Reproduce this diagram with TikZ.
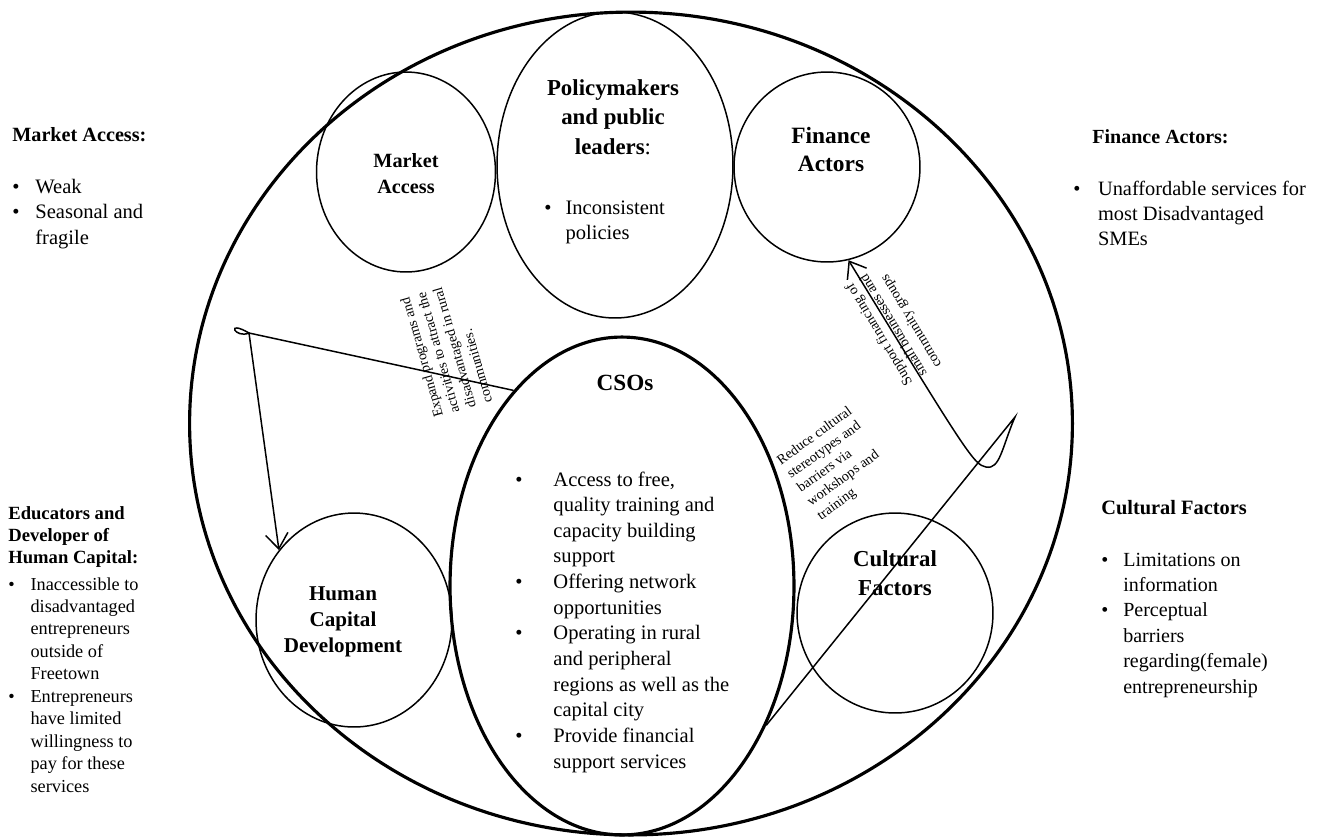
\documentclass[tikz,border=0pt]{standalone}
\usepackage{fontspec}
\setmainfont{Liberation Serif}
\usetikzlibrary{shapes.geometric, arrows.meta}
\tikzstyle{arrow} = [line width=0.85pt, ->, >={Straight Barb[length=3mm, width=4.5mm]}]
\tikzstyle{link} = [line width=0.85pt]
\tikzstyle{oval} = [ellipse, draw, line width=0.85pt, inner sep=0pt]
\tikzstyle{bigoval} = [ellipse, draw, line width=1.8pt, inner sep=0pt]
\tikzstyle{title} = [inner sep=0pt, anchor=base]
\tikzstyle{note} = [inner sep=0pt, anchor=base west]
\tikzstyle{flowtext} = [inner sep=0pt, align=left, font=\fontsize{8}{9.7}\selectfont]
\newcommand{\fsz}[2]{\fontsize{#1}{#2}\selectfont}
\newcommand{\blist}[2]{\begin{tabular}[t]{@{}l@{\hspace{#1}}l@{}}#2\end{tabular}}
\newcommand{\cstack}[1]{\begin{tabular}[t]{@{}c@{}}#1\end{tabular}}
\newcommand{\lstack}[1]{\begin{tabular}[t]{@{}l@{}}#1\end{tabular}}

\begin{document}
\begin{tikzpicture}[x=0.02cm, y=-0.02cm]
    \useasboundingbox (0,0) rectangle (1325,836);

    % Circles
    \node[bigoval, minimum width=17.66cm, minimum height=16.46cm] (outer) at (631,423.5) {};
    \node[oval, minimum width=3.58cm, minimum height=4cm] (market) at (406,172) {};
    \node[oval, minimum width=4.72cm, minimum height=6.12cm] (policy) at (615,165) {};
    \node[oval, minimum width=3.72cm, minimum height=3.8cm] (finance) at (827,167) {};
    \node[bigoval, minimum width=6.88cm, minimum height=9.96cm] (csos) at (622,586) {};
    \node[oval, minimum width=3.92cm, minimum height=4.28cm] (hcd) at (354,620) {};
    \node[oval, minimum width=3.92cm, minimum height=4cm] (culture) at (895,613) {};

    % Titles inside the circles
    \node[title, font=\fsz{11.5}{15.3}\bfseries] (markettitle) at (406,167) {\cstack{Market\\Access}};
    \node[title, font=\fsz{13}{17}\bfseries] (policytitle) at (613,95) {\cstack{Policymakers\\and public\\leaders\mdseries:}};
    \node[title, font=\fsz{13.3}{16.5}\bfseries] (financetitle) at (831,143) {\cstack{Finance\\Actors}};
    \node[title, font=\fsz{13.2}{16}\bfseries] (csostitle) at (625,390) {CSOs};
    \node[title, font=\fsz{12}{14.8}\bfseries] (hcdtitle) at (343,600) {\cstack{Human\\Capital\\Development}};
    \node[title, font=\fsz{13}{17}\bfseries] (culturetitle) at (895,566) {\cstack{Cultural\\Factors}};

    % Lists inside the circles
    \node[note, font=\fsz{11.7}{14.6}] (policylist) at (544,214) {\blist{8pt}{%
        \textbullet & Inconsistent\\ & policies}};
    \node[note, font=\fsz{11.7}{14.6}] (csoslist) at (515,486) {\blist{17.6pt}{%
        \textbullet & Access to free,\\ & quality training and\\ & capacity building\\ & support\\
        \textbullet & Offering network\\ & opportunities\\
        \textbullet & Operating in rural\\ & and peripheral\\ & regions as well as the\\ & capital city\\
        \textbullet & Provide financial\\ & support services}};

    % Side notes
    \node[note, font=\fsz{11.5}{14.6}\bfseries] (marketnote) at (12,141) {Market Access:};
    \node[note, font=\fsz{11.7}{14.6}] (marketlist) at (12,193) {\blist{9pt}{%
        \textbullet & Weak\\ \textbullet & Seasonal and\\ & fragile}};
    \node[note, font=\fsz{11.4}{14.6}\bfseries] (financenote) at (1092,143) {Finance Actors:};
    \node[note, font=\fsz{11.6}{14.3}] (financelist) at (1073,195) {\blist{10pt}{%
        \textbullet & Unaffordable services for\\ & most Disadvantaged\\ & SMEs}};
    \node[note, font=\fsz{10.6}{12.6}\bfseries] (hcdnote) at (8,519) {\lstack{Educators and\\Developer of\\Human Capital:}};
    \node[note, font=\fsz{10.4}{12.8}] (hcdlist) at (8,590) {\blist{9pt}{%
        \textbullet & Inaccessible to\\ & disadvantaged\\ & entrepreneurs\\ & outside of\\ & Freetown\\
        \textbullet & Entrepreneurs\\ & have limited\\ & willingness to\\ & pay for these\\ & services}};
    \node[note, font=\fsz{11.6}{14.5}\bfseries] (culturenote) at (1101,514) {Cultural Factors};
    \node[note, font=\fsz{11.4}{14.5}] (culturelist) at (1101,566) {\blist{8.5pt}{%
        \textbullet & Limitations on\\ & information\\
        \textbullet & Perceptual\\ & barriers\\ & regarding(female)\\ & entrepreneurship}};

    % Connectors
    \coordinate (loopA) at (249,333);
    \coordinate (kinkB) at (1015,417);
    \draw[arrow] (csos.119) -- (loopA) .. controls +(-24,-14) and +(-14,6) .. (loopA) -- (hcd.137);
    \draw[arrow] (csos.-44) -- (kinkB) .. controls (1002,447) and (1000,470) .. (986,467)
        .. controls (974,465) and (966,452) .. (finance.-77);

    % Connector labels
    \node[flowtext, rotate=106] (expandlabel) at (446,350) {Expand programs and\\activities to attract the\\disadvantaged in rural\\communities.};
    \node[flowtext, rotate=121] (supportlabel) at (894,325) {Support financing of\\small businesses and\\community groups};
    \node[flowtext, rotate=36] (reducelabel) at (835,464) {Reduce cultural\\stereotypes and\\barriers via\\workshops and\\training};

\end{tikzpicture}
\end{document}
